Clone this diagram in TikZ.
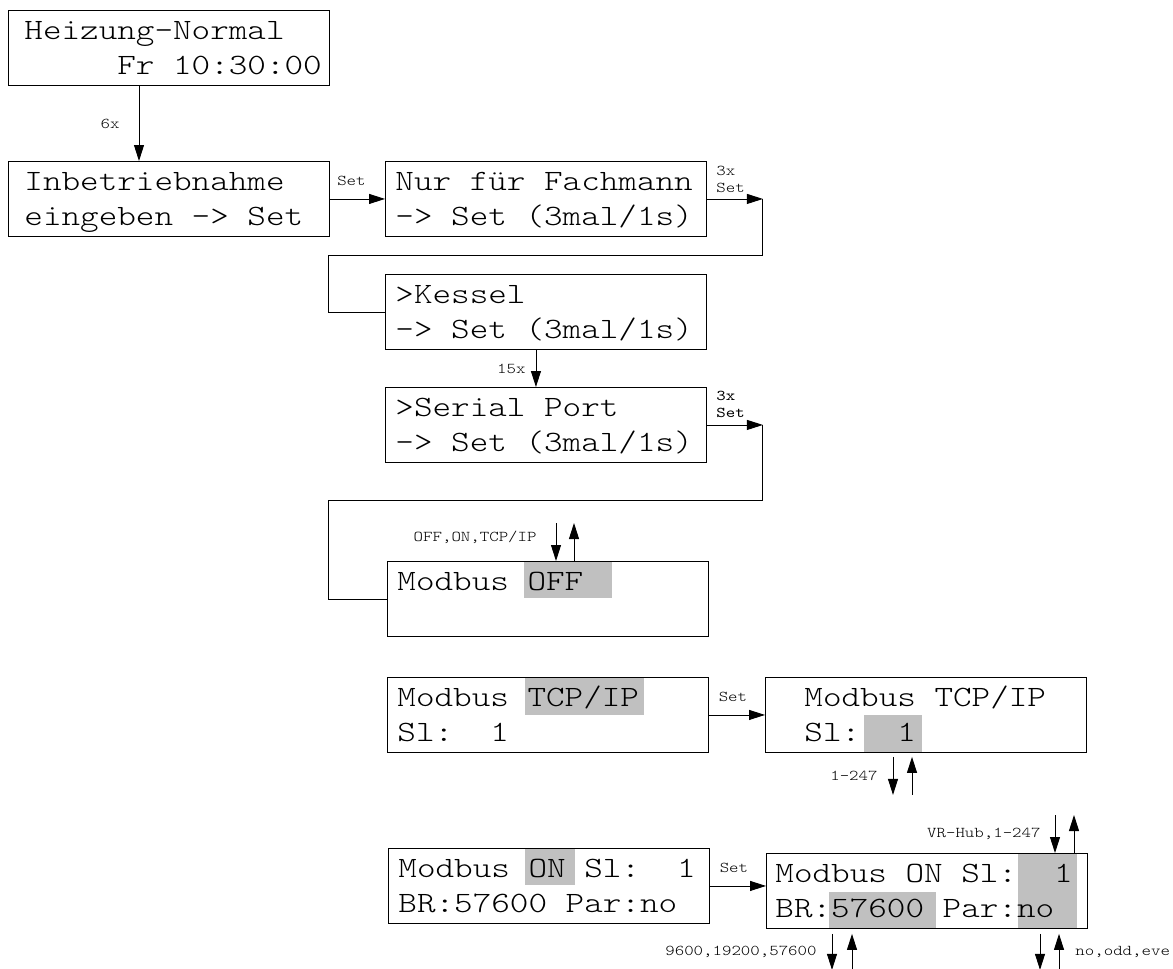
\documentclass[tikz,border=0pt]{standalone}
\usepackage{fontspec}
\usepackage{xcolor}
\usetikzlibrary{arrows.meta}
\newfontfamily\lcdfont{lmmonolt10-regular.otf}[FakeStretch=1.2]
\newfontfamily\lcddark{lmmono10-regular.otf}[FakeStretch=1.2]
\definecolor{lcdgray}{RGB}{192,192,192}
% two lines of a 16x2 display, baselines fixed
\newcommand\lcd[3][10pt]{\vbox to 75pt{\offinterlineskip\hsize=321pt
  \vskip 29pt\hbox to 321pt{\hskip #1\smash{#2}\hss}%
  \vskip 35pt\hbox to 321pt{\hskip #1\smash{#3}\hss}\vss}}

\begin{document}
\begin{tikzpicture}[x=1pt,y=-1pt,
  lcdbox/.style={draw, line width=0.9pt, inner sep=0pt, anchor=north west,
    font=\lcdfont\fontsize{29.5}{35}\selectfont},
  arr/.style={line width=0.9pt, -{Triangle[length=16pt,width=10pt]}},
  wire/.style={line width=0.9pt},
  lbl/.style={inner sep=0pt, font=\lcdfont\fontsize{15}{17}\selectfont}]

\useasboundingbox (0,0) rectangle (1173,969);

% highlighted fields
\fill[lcdgray] (524,561) rectangle (612,598);
\fill[lcdgray] (525,677) rectangle (644,715);
\fill[lcdgray] (864,715) rectangle (922,753);
\fill[lcdgray] (525,848) rectangle (575,885);
\fill[lcdgray] (1018,853) rectangle (1077,929);
\fill[lcdgray] (829,892) rectangle (936,929);

\node[lcdbox] (heiz) at (8,10) {\lcd[16pt]{Heizung-Normal}{\phantom{00000}Fr 10:30:00}};
\node[lcdbox] (inbetr) at (8,161) {\lcd[16pt]{Inbetriebnahme}{eingeben -> Set}};
\node[lcdbox] (fach) at (385,161) {\lcd{Nur für Fachmann}{-> Set (3mal/1s)}};
\node[lcdbox] (kessel) at (385,274) {\lcd{>Kessel}{-> Set (3mal/1s)}};
\node[lcdbox] (serial) at (385,387) {\lcd{>Serial Port}{-> Set (3mal/1s)}};
\node[lcdbox] (modoff) at (387,561) {\lcd{Modbus OFF}{}};
\node[lcdbox] (tcpa) at (387,677) {\lcd{Modbus TCP/IP}{Sl:\ \ 1}};
\node[lcdbox] (tcpb) at (765,677) {\lcd[39pt]{Modbus TCP/IP}{Sl:\ \ 1}};
\node[lcdbox] (ona) at (388,848) {\lcd{Modbus ON Sl:\ \ 1}{BR:57600 Par:no}};
\node[lcdbox] (onb) at (766,853) {\lcd[9pt]{Modbus ON Sl:\ \ 1}{BR:57600 Par:no}};

\draw[arr] ([xshift=131pt]heiz.south west) -- ([xshift=131pt]inbetr.north west)
  node[lbl, midway, left=19pt] (l6x) {6x};
\draw[arr] (inbetr.east) -- (fach.west)
  node[lbl, midway, above=13pt, xshift=-6pt] (lset1) {Set};

\coordinate (c1) at ([xshift=56pt]fach.east);
\coordinate (b1) at (328,255);
\draw[arr] (fach.east) -- (c1)
  node[lbl, pos=0, anchor=south west, align=left, xshift=9pt, yshift=6pt] (lfach) {3x\\Set};
\draw[wire] (c1) |- (b1) |- (kessel.west);

\draw[arr] ([xshift=-10pt]kessel.south) -- ([xshift=-10pt]serial.north)
  node[lbl, midway, left=10pt] (l15x) {15x};

\coordinate (c2) at ([xshift=56pt]serial.east);
\coordinate (b2) at (328,500);
\draw[arr] (serial.east) -- (c2)
  node[lbl, pos=0, anchor=south west, align=left, xshift=9pt, yshift=7pt,
    font=\lcddark\fontsize{15}{17}\selectfont] (lserial) {3x\\Set};
\draw[wire] (c2) |- (b2) |- (modoff.west);

% mode select
\coordinate (m1) at ([xshift=169pt,yshift=38pt]modoff.north west);
\coordinate (m2) at ([xshift=187pt,yshift=38pt]modoff.north west);
\draw[arr] (m1) -- (m1 |- modoff.north)
  node[lbl, midway, left=19pt, yshift=5pt] (lmode) {OFF,ON,TCP/IP};
\draw[arr] (m2 |- modoff.north) -- (m2);

\draw[arr] (tcpa.east) -- (tcpb.west)
  node[lbl, midway, above=13pt, xshift=-4pt] (lset2) {Set};

\coordinate (t1) at ([xshift=128pt,yshift=-4pt]tcpb.south west);
\coordinate (t2) at ([xshift=128pt,yshift=-42pt]tcpb.south west);
\coordinate (t3) at ([xshift=147pt,yshift=-4pt]tcpb.south west);
\coordinate (t4) at ([xshift=147pt,yshift=-42pt]tcpb.south west);
\draw[arr] (t1) -- (t2) node[lbl, midway, left=15pt] (lslave) {1-247};
\draw[arr] (t4) -- (t3);

\draw[arr] (ona.east) -- (ona.east -| onb.west)
  node[lbl, midway, above=13pt, xshift=-4pt] (lset3) {Set};

\coordinate (v1) at ([xshift=289pt,yshift=38pt]onb.north west);
\coordinate (v2) at ([xshift=308pt,yshift=38pt]onb.north west);
\draw[arr] (v1) -- (v1 |- onb.north) node[lbl, midway, left=14pt] (lhub) {VR-Hub,1-247};
\draw[arr] (v2 |- onb.north) -- (v2);

\coordinate (p1) at ([xshift=66pt,yshift=-5pt]onb.south west);
\coordinate (p2) at ([xshift=66pt,yshift=-41pt]onb.south west);
\coordinate (p3) at ([xshift=86pt,yshift=-5pt]onb.south west);
\coordinate (p4) at ([xshift=86pt,yshift=-41pt]onb.south west);
\draw[arr] (p1) -- (p2) node[lbl, midway, left=15pt] (lbaud) {9600,19200,57600};
\draw[arr] (p4) -- (p3);

\coordinate (q1) at ([xshift=274pt,yshift=-5pt]onb.south west);
\coordinate (q2) at ([xshift=274pt,yshift=-41pt]onb.south west);
\coordinate (q3) at ([xshift=293pt,yshift=-5pt]onb.south west);
\coordinate (q4) at ([xshift=293pt,yshift=-41pt]onb.south west);
\draw[arr] (q1) -- (q2);
\draw[arr] (q4) -- (q3) node[lbl, midway, right=16pt] (lpar) {no,odd,eve};
\end{tikzpicture}
\end{document}
